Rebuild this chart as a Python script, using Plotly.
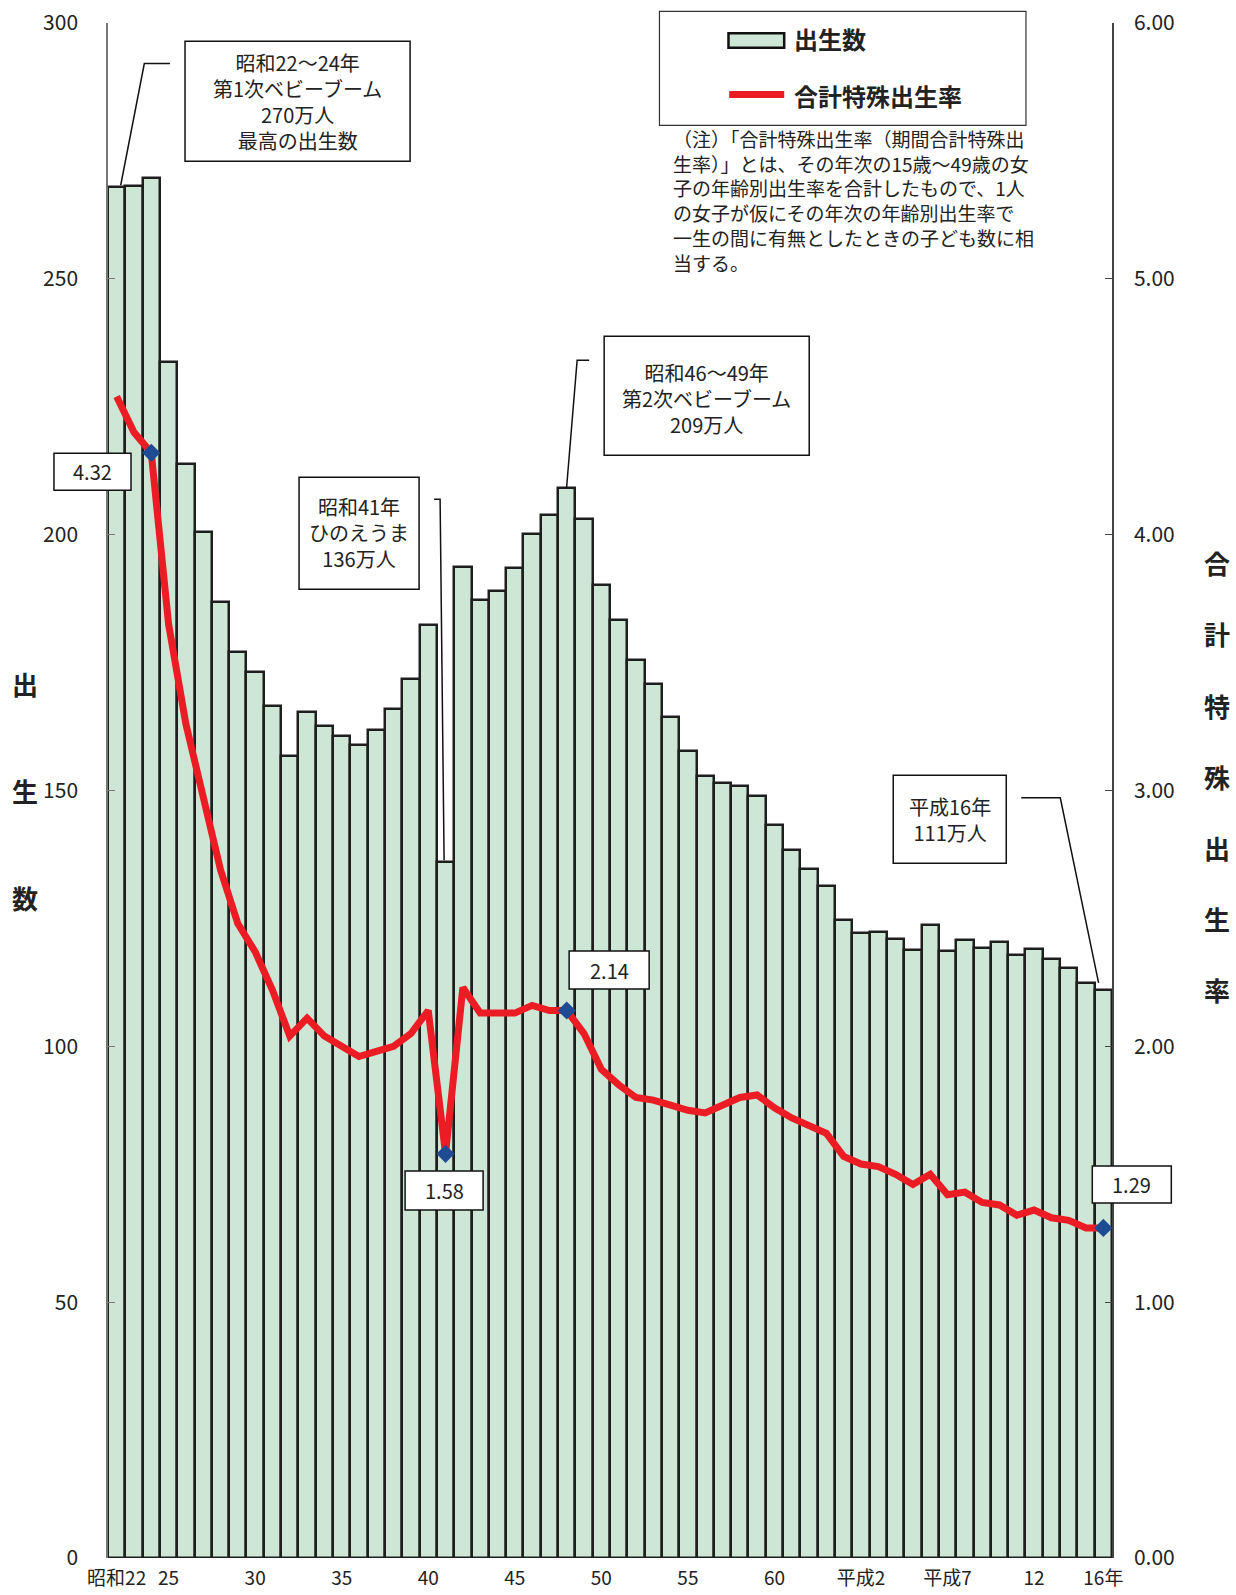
import plotly.graph_objects as go

# ---------------- data ----------------
YEARS = list(range(1947, 2005))
BIRTHS = [267.9, 268.2, 269.7, 233.8, 213.8, 200.5, 186.8, 177.0, 173.1, 166.5,
          156.7, 165.3, 162.6, 160.6, 158.9, 161.9, 166.0, 171.7, 182.4, 136.1,
          193.6, 187.2, 188.9, 193.4, 200.1, 203.9, 209.2, 203.0, 190.1, 183.3,
          175.5, 170.9, 164.3, 157.7, 152.9, 151.5, 150.9, 149.0, 143.2, 138.3,
          134.7, 131.4, 124.7, 122.2, 122.3, 120.9, 118.8, 123.8, 118.7, 120.7,
          119.2, 120.3, 117.8, 119.1, 117.1, 115.4, 112.4, 111.1]
TFR = [4.54, 4.40, 4.32, 3.65, 3.26, 2.98, 2.69, 2.48, 2.37, 2.22,
       2.04, 2.11, 2.04, 2.00, 1.96, 1.98, 2.00, 2.05, 2.14, 1.58,
       2.23, 2.13, 2.13, 2.13, 2.16, 2.14, 2.14, 2.05, 1.91, 1.85,
       1.80, 1.79, 1.77, 1.75, 1.74, 1.77, 1.80, 1.81, 1.76, 1.72,
       1.69, 1.66, 1.57, 1.54, 1.53, 1.50, 1.46, 1.50, 1.42, 1.43,
       1.39, 1.38, 1.34, 1.36, 1.33, 1.32, 1.29, 1.29]
MARK_YEARS = [1949, 1966, 1973, 2004]
TICK_YEARS = [1947, 1950, 1955, 1960, 1965, 1970, 1975, 1980, 1985, 1990, 1995, 2000, 2004]
TICK_TEXT = ["昭和22", "25", "30", "35", "40", "45", "50", "55", "60", "平成2", "平成7", "12", "16年"]
LEFT_TITLE = "出生数"
RIGHT_TITLE = "合計特殊出生率"
SERIES_BARS = "出生数"
SERIES_LINE = "合計特殊出生率"
NOTE_LINES = [
    "（注）「合計特殊出生率（期間合計特殊出",
    "生率）」とは、その年次の15歳～49歳の女",
    "子の年齢別出生率を合計したもので、1人",
    "の女子が仮にその年次の年齢別出生率で",
    "一生の間に有無としたときの子ども数に相",
    "当する。",
]
CALLOUT_BOOM1 = ["昭和22～24年", "第1次ベビーブーム", "270万人", "最高の出生数"]
CALLOUT_HINOE = ["昭和41年", "ひのえうま", "136万人"]
CALLOUT_BOOM2 = ["昭和46～49年", "第2次ベビーブーム", "209万人"]
CALLOUT_H16 = ["平成16年", "111万人"]

# ---------------- styles ----------------
FONT = "Noto Sans CJK JP"
BAR_FILL = "#cde6d5"
BAR_EDGE = "#1e1e1e"
RED = "#ec1c24"
NAVY = "#1f4b94"
TXT = "#222222"

W, H = 1236, 1595
PLOT_L, PLOT_R, PLOT_T, PLOT_B = 108, 1111.7, 22.7, 1558


def px(x):
    return (x - PLOT_L) / (PLOT_R - PLOT_L)


def py(y):
    return (PLOT_B - y) / (PLOT_B - PLOT_T)


fig = go.Figure()
fig.add_trace(go.Bar(x=YEARS, y=BIRTHS, name=SERIES_BARS,
                     marker=dict(color=BAR_FILL, line=dict(color=BAR_EDGE, width=2.5)),
                     yaxis="y"))
fig.add_trace(go.Scatter(x=YEARS, y=TFR, name=SERIES_LINE, mode="lines",
                         line=dict(color=RED, width=7), yaxis="y2"))
mark_vals = [TFR[YEARS.index(y)] for y in MARK_YEARS]
fig.add_trace(go.Scatter(x=MARK_YEARS, y=mark_vals, mode="markers",
                         marker=dict(symbol="diamond", size=14, color=NAVY),
                         yaxis="y2", showlegend=False))

shapes = []
annotations = []


def box(x0, y0, x1, y1, lw=1.5, color="#111", fill="white"):
    shapes.append(dict(type="rect", xref="paper", yref="paper", layer="above",
                       x0=px(x0), x1=px(x1), y0=py(y1), y1=py(y0),
                       fillcolor=fill, line=dict(color=color, width=lw)))


def path(points, lw=1.5, color="#111"):
    d = "M " + " L ".join(f"{px(a):.5f},{py(b):.5f}" for a, b in points)
    shapes.append(dict(type="path", xref="paper", yref="paper", layer="above",
                       path=d, line=dict(color=color, width=lw)))


def text(x, y, s, size=20, xanchor="center", align="center", weight="normal"):
    annotations.append(dict(x=px(x), y=py(y), xref="paper", yref="paper", text=s,
                            showarrow=False, xanchor=xanchor, yanchor="middle", align=align,
                            font=dict(family=FONT, size=size, color=TXT, weight=weight)))


# callout boxes
box(185, 41, 410, 161)
text(297.5, 101, "<br>".join(CALLOUT_BOOM1))
path([(170, 63.3), (144.3, 63.3), (120.7, 185)])

box(299, 477, 419, 589)
text(359, 532, "<br>".join(CALLOUT_HINOE))
path([(434, 499), (440, 499), (444, 860)])

box(604, 336, 809, 455)
text(706.5, 398, "<br>".join(CALLOUT_BOOM2))
path([(589, 360), (577, 360), (566.4, 488)])

box(893, 775, 1006, 863)
text(949.5, 819, "<br>".join(CALLOUT_H16))
path([(1021, 797.7), (1060, 797.7), (1098.3, 982.7)])

# value labels for marked points
VAL_BOXES = [(54, 453, 131, 490), (405, 1171, 483, 1210), (569, 951, 649, 989), (1092, 1166, 1171, 1203)]
for (x0, y0, x1, y1), v in zip(VAL_BOXES, mark_vals):
    box(x0, y0, x1, y1)
    text((x0 + x1) / 2, (y0 + y1) / 2, f"{v:.2f}")

# legend
box(659.3, 11, 1025.7, 125, lw=1.2, color="#333")
box(728.3, 33, 784, 47.5, lw=2.5, color="#111", fill=BAR_FILL)
path([(729, 94.3), (784, 94.3)], lw=7, color=RED)
text(792, 38.5, SERIES_BARS, size=24, xanchor="left", align="left", weight="bold")
text(792, 95.5, SERIES_LINE, size=24, xanchor="left", align="left", weight="bold")

# note
text(671, 200.5, "<br>".join(NOTE_LINES), size=19, xanchor="left", align="left")

# vertical axis titles
for i, ch in enumerate(LEFT_TITLE):
    text(25.4, 683.6 + i * 106.8, ch, size=26, weight="bold")
for i, ch in enumerate(RIGHT_TITLE):
    text(1217, 562.6 + i * 71.2, ch, size=26, weight="bold")

tickfont = dict(family=FONT, size=21, color=TXT)
fig.update_layout(
    width=W, height=H,
    margin=dict(l=PLOT_L, r=W - PLOT_R, t=PLOT_T, b=H - PLOT_B, pad=0, autoexpand=False),
    plot_bgcolor="white", paper_bgcolor="white",
    bargap=0, showlegend=False,
    font=dict(family=FONT, color=TXT),
    xaxis=dict(range=[1946.5, 2004.5], tickmode="array", tickvals=TICK_YEARS, ticktext=TICK_TEXT,
               ticks="", showgrid=False, zeroline=False, showline=False, automargin=False,
               tickfont=dict(family=FONT, size=19, color=TXT), ticklabelstandoff=7),
    yaxis=dict(range=[0, 300], dtick=50, tick0=0, ticks="inside", ticklen=7, tickcolor="#777",
               tickwidth=1.2, showline=True, linecolor="#777", linewidth=1.5, showgrid=False,
               zeroline=False, tickfont=tickfont, ticklabelstandoff=24, automargin=False),
    yaxis2=dict(range=[0, 6], dtick=1, tick0=0, tickformat=".2f", overlaying="y", side="right",
                ticks="inside", ticklen=7, tickcolor="#444", tickwidth=1.2, showline=True,
                linecolor="#444", linewidth=1.5, showgrid=False, zeroline=False,
                tickfont=tickfont, ticklabelstandoff=16, automargin=False),
    shapes=shapes, annotations=annotations,
)

fig.write_html("out.html", config={"displayModeBar": False},
               post_script="document.body.style.margin='0';document.body.style.overflow='hidden';")
